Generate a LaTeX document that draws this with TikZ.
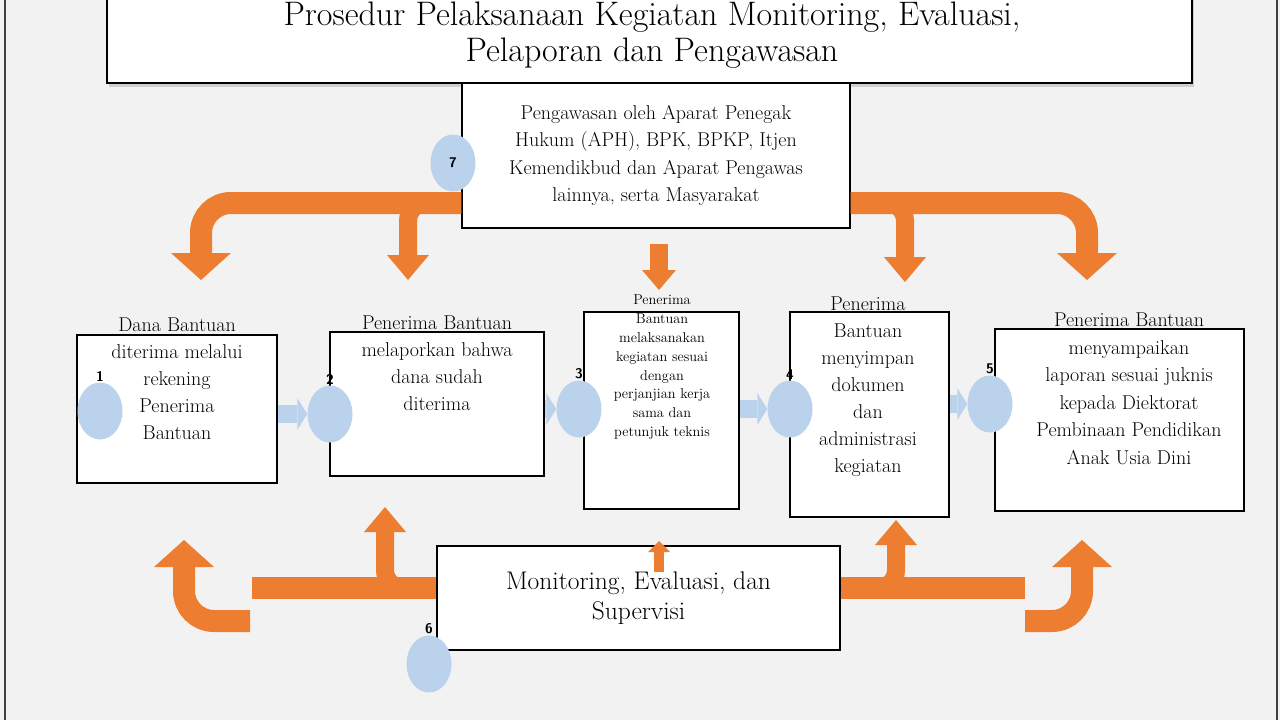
\documentclass[tikz,border=0pt]{standalone}
\usepackage{amsmath}
\usepackage{tikz}
\usetikzlibrary{arrows.meta,shapes.geometric,positioning,backgrounds,shadows}
\definecolor{orangeA}{HTML}{ED7D31}
\definecolor{blueA}{HTML}{BAD2EC}
\definecolor{paper}{HTML}{F2F2F2}
\tikzset{box/.style = {draw, fill = white, line width = 1.4pt, inner sep = 0pt}}
\tikzset{txt/.style = {align = center, inner sep = 0pt, anchor = north, font = \fontsize{20}{27}\selectfont}}
\tikzset{dot/.style = {ellipse, fill = blueA, minimum width = 45pt, minimum height = 57pt, inner sep = 0pt}}
\tikzset{num/.style = {font = \sffamily\bfseries\fontsize{14}{14}\selectfont, inner sep = 1pt}}
\tikzset{bendarrow/.style = {draw = orangeA, line width = 22pt, rounded corners = 30pt, -{Triangle[width = 60pt, length = 27pt, line width = 0pt]}}}
\tikzset{brancharrow/.style = {draw = orangeA, line width = 18pt, rounded corners = 18pt, -{Triangle[width = 42pt, length = 25pt, line width = 0pt]}}}
\tikzset{barline/.style = {draw = orangeA, line width = 22pt}}
\tikzset{nubarrow/.style = {draw = orangeA, line width = 18pt, -{Triangle[width = 34pt, length = 20pt, line width = 0pt]}}}
\tikzset{pusharrow/.style = {draw = blueA, line width = 18pt, -{Triangle[width = 32pt, length = 10pt, line width = 0pt]}}}

\begin{document}
\begin{tikzpicture}[x = 1pt, y = -1pt]
			\useasboundingbox (0, 0) rectangle (1280, 720);
			\draw[line width = 2pt, black!75] (5, -5) -- (5, 725);
			\draw[line width = 2pt, black!75] (1277, -5) -- (1277, 725);

			% boxes
			\node[box, drop shadow = {shadow xshift = 2pt, shadow yshift = -4pt, opacity = .3}, minimum width = 1085pt, minimum height = 103pt] (title) at (649.5, 31.5) {};
			\node[txt, font = \fontsize{34}{36}\selectfont] (tt) at (652, 1.5) {Prosedur Pelaksanaan Kegiatan Monitoring, Evaluasi,\\ Pelaporan dan Pengawasan};
			\node[box, minimum width = 388pt, minimum height = 145pt, align = center, font = \fontsize{20}{27.5}\selectfont] (aph) at (656, 155.5) {Pengawasan oleh Aparat Penegak\\ Hukum (APH), BPK, BPKP, Itjen\\ Kemendikbud dan Aparat Pengawas\\ lainnya, serta Masyarakat};
			\node[box, minimum width = 200pt, minimum height = 148pt] (b1) at (177, 409) {};
			\node[box, minimum width = 214pt, minimum height = 144pt] (b2) at (437, 404) {};
			\node[box, minimum width = 155pt, minimum height = 197pt] (b3) at (661.5, 410.5) {};
			\node[box, minimum width = 159pt, minimum height = 205pt] (b4) at (869.5, 414.5) {};
			\node[box, minimum width = 249pt, minimum height = 182pt] (b5) at (1119.5, 420) {};
			\node[box, minimum width = 403pt, minimum height = 104pt, align = center, font = \fontsize{25.5}{30}\selectfont] (mon) at (638.5, 598) {Monitoring, Evaluasi, dan\\ Supervisi};

			\node[txt] (t1) at (177, 318) {Dana Bantuan\\ diterima melalui\\ rekening\\ Penerima\\ Bantuan};
			\node[txt] (t2) at (437, 316) {Penerima Bantuan\\ melaporkan bahwa\\ dana sudah\\ diterima};
			\node[txt, font = \fontsize{14.3}{18.8}\selectfont] (t3) at (662, 295) {Penerima\\ Bantuan\\ melaksanakan\\ kegiatan sesuai\\ dengan\\ perjanjian kerja\\ sama dan\\ petunjuk teknis};
			\node[txt] (t4) at (868, 297) {Penerima\\ Bantuan\\ menyimpan\\ dokumen\\ dan\\ administrasi\\ kegiatan};
			\node[txt, font = \fontsize{20}{27.5}\selectfont] (t5) at (1129, 313) {Penerima Bantuan\\ menyampaikan\\ laporan sesuai juknis\\ kepada Diektorat\\ Pembinaan Pendidikan\\ Anak Usia Dini};

			% numbered dots
			\node[dot, label = {[num]above:1}] (c1) at (100, 411) {};
			\node[dot, label = {[num]above:2}] (c2) at (330, 414) {};
			\node[dot, label = {[num]above:3}] (c3) at (579, 409) {};
			\node[dot, label = {[num]above:4}] (c4) at (790, 409) {};
			\node[dot, label = {[num]above:5}] (c5) at (990, 404) {};
			\node[dot, label = {[num]above:6}] (c6) at (429, 664) {};
			\node[dot, font = \sffamily\bfseries\fontsize{14}{14}\selectfont] (c7) at (453, 163) {7};

			\begin{pgfonlayer}{background}
				\fill[paper] (0, 0) rectangle (1280, 720);
				\draw[pusharrow] (b1.east |- c2) to (c2.west);
				\draw[pusharrow] (b2.east |- c3) to (c3.west);
				\draw[pusharrow] (b3.east |- c4) to (c4.west);
				\draw[pusharrow] (b4.east |- c5) to (c5.west);
			\end{pgfonlayer}

			\coordinate (ytop) at (0, 203);
			\coordinate (ybot) at (0, 588);
			\coordinate (tip1) at (201, 280);
			\coordinate (tip2) at (408, 280);
			\coordinate (tip3) at (905, 282);
			\coordinate (tip4) at (1087, 280);
			\coordinate (tip5) at (659, 290);
			\coordinate (up1) at (184, 540);
			\coordinate (up2) at (385, 507);
			\coordinate (up3) at (896, 520);
			\coordinate (up4) at (1082, 540);
			\coordinate (up5) at (659, 541);
			\coordinate (barL) at (252, 588);
			\coordinate (barR) at (1025, 588);
			\coordinate (uL) at (250, 621);
			\coordinate (uR) at (1025, 621);

			% from the supervisors
			\draw[bendarrow] (aph.west |- ytop) -| (tip1);
			\draw[brancharrow] (445, 203) -| (tip2);
			\draw[bendarrow] (aph.east |- ytop) -| (tip4);
			\draw[brancharrow] (868, 203) -| (tip3);
			\draw[nubarrow] ([yshift = -15pt]aph.south -| tip5) to (tip5);

			% from monitoring
			\draw[barline] (mon.west |- ybot) to (barL);
			\draw[barline] (mon.east |- ybot) to (barR);
			\draw[bendarrow] (uL) -| (up1);
			\draw[bendarrow] (uR) -| (up4);
			\draw[brancharrow] (420, 588) -| (up2);
			\draw[brancharrow] (862, 588) -| (up3);
			\draw[draw = orangeA, line width = 10pt, -{Triangle[width = 22pt, length = 11pt, line width = 0pt]}] (659, 572) to (up5);
		\end{tikzpicture}
\end{document}
